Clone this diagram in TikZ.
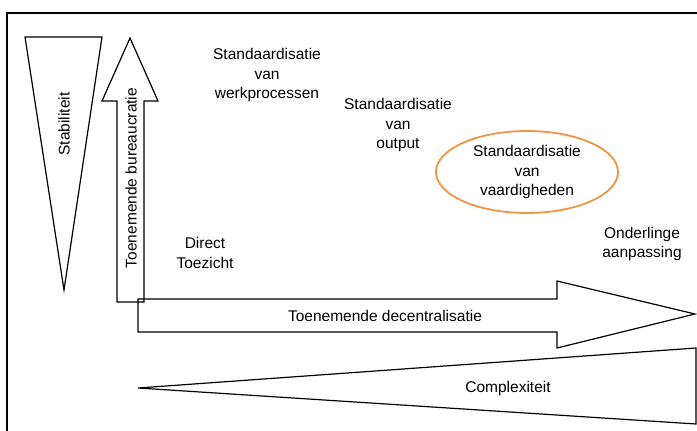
\documentclass[tikz,border=0pt]{standalone}
\usepackage{fontspec}
\setmainfont{Liberation Sans}
\usetikzlibrary{shapes.geometric}
\definecolor{ovaal}{RGB}{240,148,68}

\begin{document}
\begin{tikzpicture}[x=1pt,y=-1pt,line width=1.2pt,line join=miter,
  lbl/.style={align=center,font=\fontsize{15.5}{19.5}\selectfont,inner sep=0pt}]
\useasboundingbox (0,0) rectangle (697,431);
% frame
\draw (7,431) -- (7,13) -- (697,13);
% Stabiliteit
\draw (25,37) -- (102,37) -- (64,290) -- cycle;
\node[lbl,rotate=90] (stab) at (64,124) {Stabiliteit};
% bureaucratie
\draw (117,302) -- (117,101) -- (102,101) -- (130,38) -- (158,101)
      -- (144,101) -- (144,302) -- cycle;
\node[lbl,rotate=90] (bur) at (131,178) {Toenemende bureaucratie};
% decentralisatie
\draw (138,299) -- (557,299) -- (557,281) -- (695,314) -- (557,348)
      -- (557,332) -- (138,332) -- cycle;
\node[lbl] (dec) at (385,316) {Toenemende decentralisatie};
% Complexiteit
\draw (138,388) -- (696,348) -- (696,424) -- cycle;
\node[lbl] (comp) at (508,388) {Complexiteit};
% the mechanisms
\node[lbl] (toez) at (205,253) {Direct\\Toezicht};
\node[lbl] (werk) at (267,75) {Standaardisatie\\van\\werkprocessen};
\node[lbl] (outp) at (398,125) {Standaardisatie\\van\\output};
\node[lbl] (vaar) at (527,172) {Standaardisatie\\van\\vaardigheden};
\draw[ovaal,line width=1.8pt] (527,172) ellipse [x radius=91,y radius=41];
\node[lbl] (aanp) at (642,244) {Onderlinge\\aanpassing};
\end{tikzpicture}
\end{document}
